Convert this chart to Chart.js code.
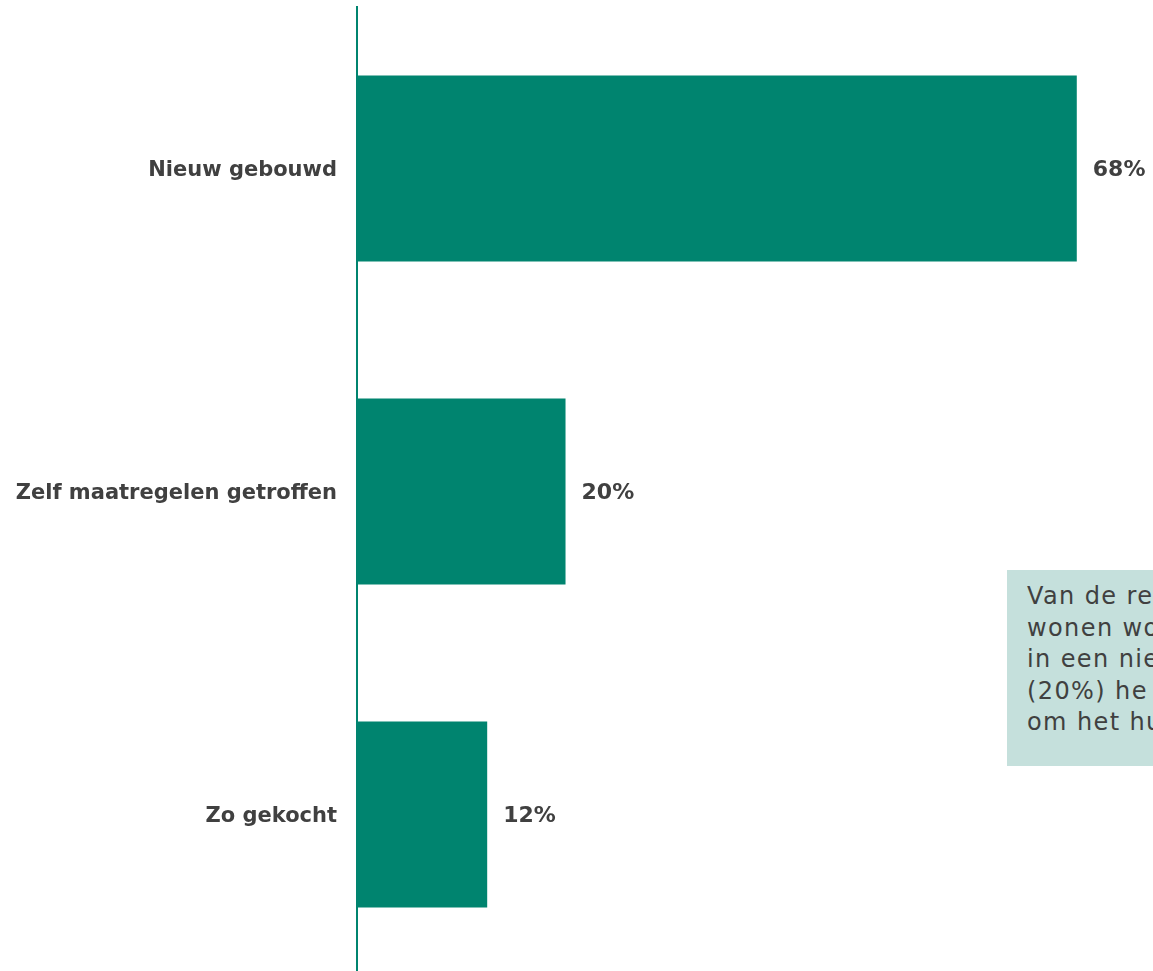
<!DOCTYPE html>
<html>
<head>
<meta charset="utf-8">
<script src="https://cdn.jsdelivr.net/npm/chart.js@4/dist/chart.umd.min.js"></script>
<style>
  html, body { margin: 0; padding: 0; background: #fff; overflow: hidden; }
  #wrap { position: relative; width: 1153px; height: 976px; }
  #note {
    position: absolute; left: 1007px; top: 570px; width: 300px; height: 196px;
    background: #c5e0dc; box-sizing: border-box; padding: 11px 0 0 20px;
    font-family: "DejaVu Sans", Verdana, sans-serif; font-size: 24px; line-height: 31.5px;
    letter-spacing: 1.4px; color: #404040; white-space: nowrap;
  }
</style>
</head>
<body>
<div id="wrap">
  <canvas id="chart"></canvas>
  <div id="note">Van de re<br>wonen wo<br>in een nie<br>(20%) he<br>om het hu</div>
</div>
<script>
const categories = ["Nieuw gebouwd", "Zelf maatregelen getroffen", "Zo gekocht"];
const values = [68, 19.7, 12.3];
const valueLabels = ["68%", "20%", "12%"];
const barColor = "#00846f";
const textColor = "#404040";

// draws the percentage next to each bar
const valueLabelPlugin = {
  id: "valueLabels",
  afterDatasetsDraw(chart) {
    const ctx = chart.ctx;
    const meta = chart.getDatasetMeta(0);
    ctx.save();
    ctx.font = "bold 22px 'DejaVu Sans'";
    ctx.fillStyle = textColor;
    ctx.textAlign = "left";
    ctx.textBaseline = "middle";
    meta.data.forEach((bar, i) => {
      ctx.fillText(valueLabels[i], bar.x + 16, bar.y + 2);
    });
    ctx.restore();
  },
};

new Chart(document.getElementById("chart"), {
  type: "bar",
  data: {
    labels: categories,
    datasets: [
      {
        data: values,
        backgroundColor: barColor,
        borderWidth: 0,
        barPercentage: 1,
        categoryPercentage: 0.576,
      },
    ],
  },
  options: {
    indexAxis: "y",
    responsive: true,
    maintainAspectRatio: false,
    animation: false,
    layout: { padding: { top: 7, right: 0, bottom: 0, left: 0 } },
    scales: {
      x: {
        display: false,
        min: 0,
        max: 75.2,
      },
      y: {
        afterFit: (scale) => {
          scale.width = 357;
          scale.paddingTop = 0;
          scale.paddingBottom = 0;
        },
        grid: { display: false },
        border: { display: true, color: barColor, width: 2 },
        ticks: {
          color: textColor,
          padding: 12,
          labelOffset: 2,
          font: { family: "DejaVu Sans", size: 21, weight: "bold" },
        },
      },
    },
    plugins: {
      legend: { display: false },
      tooltip: { enabled: false },
    },
  },
  plugins: [valueLabelPlugin],
});
</script>
</body>
</html>
